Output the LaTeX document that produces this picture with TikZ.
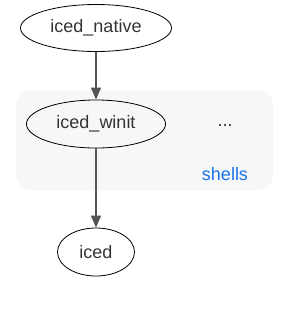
\documentclass[tikz,border=0pt]{standalone}
\usepackage{fontspec}
\setmainfont{Liberation Sans}
\usetikzlibrary{arrows.meta,positioning,shapes.geometric}
\definecolor{txtgray}{HTML}{333333}
\definecolor{edgegray}{HTML}{555555}
\definecolor{clusterbg}{HTML}{F6F7F9}
\definecolor{linkblue}{HTML}{1A73E8}

\begin{document}
\begin{tikzpicture}[
    x=1pt, y=1pt,
    crate/.style={ellipse, draw, line width=0.8pt, inner sep=0pt, text=txtgray, font=\fontsize{18}{21}\selectfont},
    dep/.style={-{Triangle[length=12pt,width=10pt]}, line width=1.4pt, edgegray},
    lbl/.style={font=\fontsize{18}{21}\selectfont, inner sep=0pt}
]
    \useasboundingbox (0,0) rectangle (288,-319);
    \fill[clusterbg, rounded corners=15pt] (16,-90) rectangle (273,-190);

    \node[crate, minimum width=151pt, minimum height=47pt] (native) at (96,-28)  {iced\_native};
    \node[crate, minimum width=139pt, minimum height=48pt] (winit)  at (96,-124) {iced\_winit};
    \node[crate, minimum width=77pt,  minimum height=48pt] (iced)   at (96,-252) {iced};

    \node[lbl, text=txtgray]   (more)   at (225,-126) {...};
    \node[lbl, text=linkblue]  (shells) at (225,-174) {shells};

    \draw[dep] (native) -- (winit);
    \draw[dep] (winit) -- (iced);
\end{tikzpicture}
\end{document}
